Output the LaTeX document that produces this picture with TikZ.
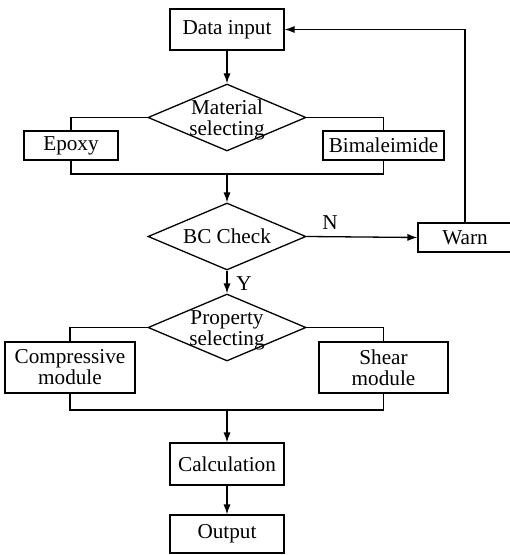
\documentclass[tikz,border=0pt]{standalone}
\usepackage{fontspec}
\setmainfont{Liberation Serif}
\usepackage{tikz}
\usetikzlibrary{shapes.geometric,arrows.meta}

\newcommand{\dtext}[1]{\smash{\makebox[0pt]{\raisebox{-4.3pt}{\begin{tabular}{@{}c@{}}#1\end{tabular}}}}}

\begin{document}
\begin{tikzpicture}[x=0.5pt,y=-0.5pt,line width=0.65pt,
  font=\fontsize{10.6}{10.5}\selectfont,
  >={Latex[length=5pt,width=3.6pt]},
  block/.style={draw,rectangle,inner sep=0pt,align=center},
  decision/.style={draw,diamond,inner sep=0pt,minimum width=79pt,minimum height=33.5pt}]
\useasboundingbox (0,0) rectangle (509,555);

\node[block,minimum width=57pt,minimum height=20.5pt] (input) at (227,29.5) {Data input};
\node[decision] (mat) at (227,117.5) {\dtext{Material\\selecting}};
\node[block,minimum width=47pt,minimum height=14.5pt] (epoxy) at (71,145.5) {Epoxy};
\node[block,minimum width=60.5pt,minimum height=14.5pt] (bima) at (383.5,145.5) {Bimaleimide};
\node[decision] (bc) at (227,236.5) {\dtext{BC Check}};
\node[block,minimum width=47pt,minimum height=14.5pt] (warn) at (465,237.5) {Warn};
\node[decision] (prop) at (227,327.5) {\dtext{Property\\selecting}};
\node[block,minimum width=65pt,minimum height=25.5pt] (comp) at (70,367.5) {Compressive\\module};
\node[block,minimum width=64.5pt,minimum height=25.5pt] (shear) at (383.5,367.5) {Shear\\module};
\node[block,minimum width=57pt,minimum height=21pt] (calc) at (227,464) {Calculation};
\node[block,minimum width=57pt,minimum height=19pt] (out) at (227,534) {Output};

\coordinate (j1) at (227,174);
\coordinate (j2) at (227,410);

\draw[->] (input) -- (mat);
\draw (mat.west) -| (epoxy.north);
\draw (mat.east) -| (bima.north);
\draw (epoxy.south) |- (j1) -| (bima.south);
\draw[->] (j1) -- (bc.north);
\draw[->] (bc.east) -- node[pos=0.21,above] {N} (warn.west);
\draw[->] (warn.north) |- (input.east);
\draw[->] (bc.south) -- node[pos=0.55,right=1pt] {Y} (prop.north);
\draw (prop.west) -| (comp.north);
\draw (prop.east) -| (shear.north);
\draw (comp.south) |- (j2) -| (shear.south);
\draw[->] (j2) -- (calc.north);
\draw[->] (calc) -- (out);
\end{tikzpicture}
\end{document}
